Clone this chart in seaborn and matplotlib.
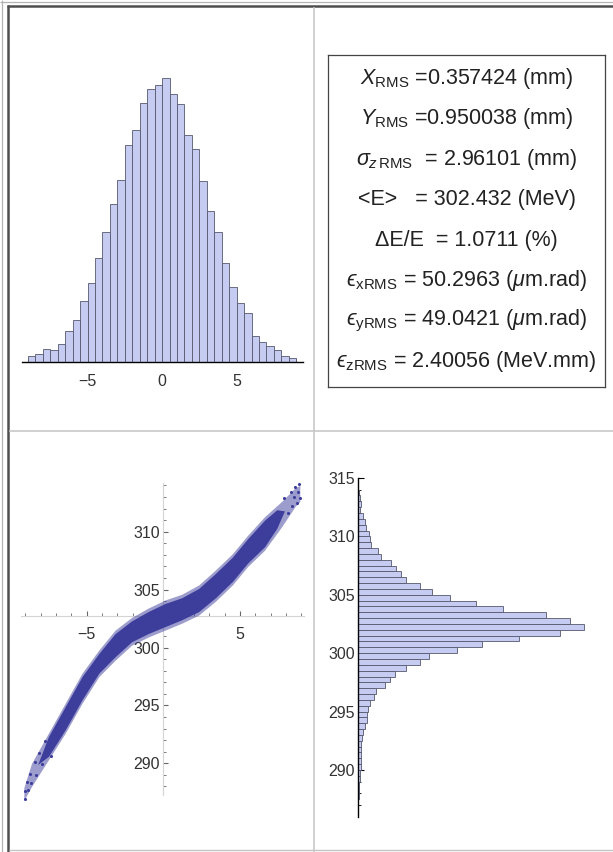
import numpy as np
import pandas as pd
import matplotlib
matplotlib.use('Agg')
import matplotlib.pyplot as plt
from matplotlib.lines import Line2D
from matplotlib.ticker import FixedLocator, MultipleLocator
import seaborn as sns

# --- data ------------------------------------------------------------------
# longitudinal distribution (z in mm), 0.5 mm bins from -9 to 9
z_edges = np.arange(-9.0, 9.01, 0.5)
z_counts = [14, 21, 31, 29, 44, 76, 105, 151, 196, 257, 321, 392, 451, 538, 575, 642, 675, 687,
            703, 664, 638, 563, 527, 447, 373, 321, 246, 186, 147, 122, 65, 50, 39, 30, 16, 10]

# energy distribution (MeV), 0.5 MeV bins from 287 to 314.5
e_edges = np.arange(287.0, 314.51, 0.5)
e_counts = [2, 3, 4, 6, 7, 9, 12, 13, 13, 15,
            15, 19, 22, 29, 38, 40, 44, 51, 69, 81,
            117, 139, 164, 213, 271, 312, 436, 546, 707, 887,
            994, 934, 826, 638, 521, 403, 327, 274, 210, 189,
            167, 145, 103, 88, 59, 54, 48, 34, 29, 22,
            11, 15, 7, 4, 2]

# z-E phase space: outline of the particle cloud (outer, sparse) and dense core
band_z = [-9.1, -8.6, -7.5, -6.4, -5.3, -4.2, -3.15, -2.07, -1.0, 0.1,
          1.2, 2.3, 3.4, 4.5, 5.5, 6.6, 7.7, 8.6, 8.9]
band_hi = [287.9, 290.0, 292.6, 295.2, 297.8, 299.8, 301.5, 302.6, 303.4, 304.1,
           304.6, 305.4, 306.7, 308.1, 309.7, 311.3, 312.6, 313.8, 314.0]
band_lo = [286.8, 288.0, 290.3, 292.6, 295.2, 297.5, 298.9, 300.2, 300.9, 301.5,
           302.1, 302.8, 304.0, 305.4, 307.0, 308.4, 310.4, 312.2, 312.6]
core_z = [-8.2, -7.5, -6.4, -5.3, -4.2, -3.15, -2.07, -1.0, 0.1,
          1.2, 2.3, 3.4, 4.5, 5.5, 6.6, 7.4, 7.9]
core_hi = [289.9, 292.3, 294.9, 297.5, 299.5, 301.2, 302.3, 303.1, 303.8,
           304.3, 305.1, 306.4, 307.8, 309.4, 311.0, 311.9, 311.8]
core_lo = [289.9, 290.6, 292.9, 295.5, 297.8, 299.2, 300.5, 301.2, 301.8,
           302.4, 303.1, 304.3, 305.7, 307.3, 308.7, 310.3, 311.8]
stray_z = [-9.0, -9.0, -8.9, -8.8, -8.7, -8.6, -8.4, -8.3, -8.1, -7.9, -7.7, -7.3,
           7.9, 8.1, 8.3, 8.4, 8.5, 8.6, 8.7, 8.8, 8.85, 8.9]
stray_e = [286.9, 287.6, 288.4, 287.7, 289.1, 288.3, 290.1, 289.0, 290.9, 289.9, 291.9, 290.6,
           312.9, 311.6, 313.4, 312.2, 313.0, 313.9, 312.5, 313.4, 314.1, 312.9]

stats_lines = [
    r'$X_{\mathrm{RMS}}$ =0.357424 (mm)',
    r'$Y_{\mathrm{RMS}}$ =0.950038 (mm)',
    r'$\sigma_{z\,\mathrm{RMS}}$  = 2.96101 (mm)',
    r'<E>   = 302.432 (MeV)',
    r'ΔE/E  = 1.0711 (%)',
    r'$ϵ_{\mathrm{xRMS}}$ = 50.2963 ($\mu$m.rad)',
    r'$ϵ_{\mathrm{yRMS}}$ = 49.0421 ($\mu$m.rad)',
    r'$ϵ_{\mathrm{zRMS}}$ = 2.40056 (MeV.mm)',
]

# --- style -------------------------------------------------------------------
W, H = 613, 852
FILL = '#c6ccf1'
EDGE = '#55586e'
PT = '#3d3d9c'
TXT = '#333333'

sns.set_theme(style='white')
plt.rcParams['font.family'] = ['Liberation Sans', 'DejaVu Sans']
plt.rcParams['mathtext.fontset'] = 'custom'
plt.rcParams['mathtext.rm'] = 'Liberation Sans'
plt.rcParams['mathtext.it'] = 'Liberation Sans:italic'
plt.rcParams['mathtext.bf'] = 'Liberation Sans:bold'
plt.rcParams['mathtext.fallback'] = 'stix'

fig = plt.figure(figsize=(W / 100, H / 100), dpi=100)
fig.patch.set_facecolor('white')


def add_ax(x0, y0, x1, y1):
    ax = fig.add_axes([x0 / W, 1 - y1 / H, (x1 - x0) / W, (y1 - y0) / H])
    ax.set_facecolor('none')
    return ax


def fig_line(xs, ys, color, lw):
    fig.add_artist(Line2D([x / W for x in xs], [1 - y / H for y in ys],
                          transform=fig.transFigure, color=color, lw=lw,
                          solid_capstyle='butt'))


# grid frame (Mathematica Grid with Frame -> All)
fig_line([2, 2], [0, H], '#b4b4b4', 0.9)
fig_line([0, W], [2, 2], '#b4b4b4', 0.9)
fig_line([8, 8], [5, H], '#4e4e4e', 1.8)
fig_line([7, W], [6, 6], '#4e4e4e', 1.8)
fig_line([314, 314], [7, H], '#c4c4c4', 1.1)
fig_line([9, W], [431, 431], '#c4c4c4', 1.1)
fig_line([9, W], [850, 850], '#c4c4c4', 1.0)

# --- top left: z histogram -----------------------------------------------------
z_df = pd.DataFrame({'z': (z_edges[:-1] + z_edges[1:]) / 2, 'n': z_counts})
ax1 = add_ax(22, 70, 303, 362)
sns.histplot(data=z_df, x='z', weights='n', bins=list(z_edges), ax=ax1,
             color=FILL, edgecolor=EDGE, linewidth=0.6, alpha=1)
ax1.set_xlim(-9.4, 9.45)
ax1.set_ylim(0, 723)
ax1.set_xlabel('')
ax1.set_ylabel('')
for s in ['left', 'right', 'top']:
    ax1.spines[s].set_visible(False)
ax1.spines['bottom'].set_color('black')
ax1.spines['bottom'].set_linewidth(1.0)
ax1.set_yticks([])
ax1.xaxis.set_major_locator(FixedLocator([-5, 0, 5]))
ax1.xaxis.set_minor_locator(MultipleLocator(1))
ax1.tick_params(axis='x', which='both', direction='in', bottom=True,
                color='black', labelcolor=TXT, labelsize=11.5, pad=9)
ax1.tick_params(axis='x', which='major', length=4, width=0.8)
ax1.tick_params(axis='x', which='minor', length=2.5, width=0.6)

# --- top right: beam parameters box -------------------------------------------
ax2 = add_ax(328, 55, 605, 387)
ax2.set_xticks([])
ax2.set_yticks([])
for sp in ax2.spines.values():
    sp.set_color('#444444')
    sp.set_linewidth(0.9)
for i, line in enumerate(stats_lines):
    y_px = 78.3 + 40.5 * i
    ax2.text(0.5, (387 - y_px) / 332, line, ha='center', va='center',
             fontsize=15.5, color='#222222', transform=ax2.transAxes)

# --- bottom left: z-E phase space ---------------------------------------------
ax3 = add_ax(20, 470, 305, 810)
ax3.fill_between(band_z, band_lo, band_hi, color=PT, alpha=0.5, lw=0, zorder=3)
ax3.fill_between(core_z, core_lo, core_hi, color=PT, lw=0, zorder=3)
sns.scatterplot(x=stray_z, y=stray_e, ax=ax3, color=PT, s=5, linewidth=0, zorder=3)
ax3.set_xlim(-9.35, 9.24)
ax3.set_ylim(285.97, 315.33)
for s in ['right', 'top']:
    ax3.spines[s].set_visible(False)
ax3.spines['left'].set_position(('data', 0))
ax3.spines['bottom'].set_position(('data', 302.75))
ax3.spines['left'].set_bounds(287.3, 314.2)
ax3.spines['bottom'].set_bounds(-9.3, 9.2)
for s in ['left', 'bottom']:
    ax3.spines[s].set_color('#d4d4d4')
    ax3.spines[s].set_linewidth(0.8)
ax3.yaxis.set_major_locator(FixedLocator([290, 295, 300, 305, 310]))
ax3.yaxis.set_minor_locator(FixedLocator(list(range(288, 315))))
ax3.xaxis.set_major_locator(FixedLocator([-5, 5]))
ax3.xaxis.set_minor_locator(FixedLocator([-9, -8, -7, -6, -4, -3, -2, -1, 1, 2, 3, 4, 6, 7, 8, 9]))
ax3.tick_params(axis='both', which='both', direction='in', left=True, bottom=True,
                color='#666666', labelcolor=TXT, labelsize=11.5)
ax3.tick_params(axis='both', which='major', length=3.5, width=0.8)
ax3.tick_params(axis='both', which='minor', length=2, width=0.6)
ax3.tick_params(axis='y', pad=2.5)
ax3.tick_params(axis='x', pad=8)
ax3.set_xlabel('')
ax3.set_ylabel('')

# --- bottom right: energy histogram -------------------------------------------
e_df = pd.DataFrame({'E': (e_edges[:-1] + e_edges[1:]) / 2, 'n': e_counts})
ax4 = add_ax(358, 470, 605, 820)
sns.histplot(data=e_df, y='E', weights='n', bins=list(e_edges), ax=ax4,
             color=FILL, edgecolor=EDGE, linewidth=0.6, alpha=1)
ax4.set_xlim(0, 1087)
ax4.set_ylim(285.72, 315.68)
ax4.set_xlabel('')
ax4.set_ylabel('')
for s in ['right', 'top', 'bottom']:
    ax4.spines[s].set_visible(False)
ax4.spines['left'].set_color('black')
ax4.spines['left'].set_linewidth(1.0)
ax4.spines['left'].set_bounds(286.0, 315.0)
ax4.set_xticks([])
ax4.yaxis.set_major_locator(FixedLocator([290, 295, 300, 305, 310, 315]))
ax4.yaxis.set_minor_locator(FixedLocator(list(range(287, 315))))
ax4.tick_params(axis='y', which='both', direction='in', left=True,
                color='black', labelcolor=TXT, labelsize=11.5, pad=2)
ax4.tick_params(axis='y', which='major', length=4, width=0.8)
ax4.tick_params(axis='y', which='minor', length=2.5, width=0.6)

fig.savefig('out.png', dpi=100)
